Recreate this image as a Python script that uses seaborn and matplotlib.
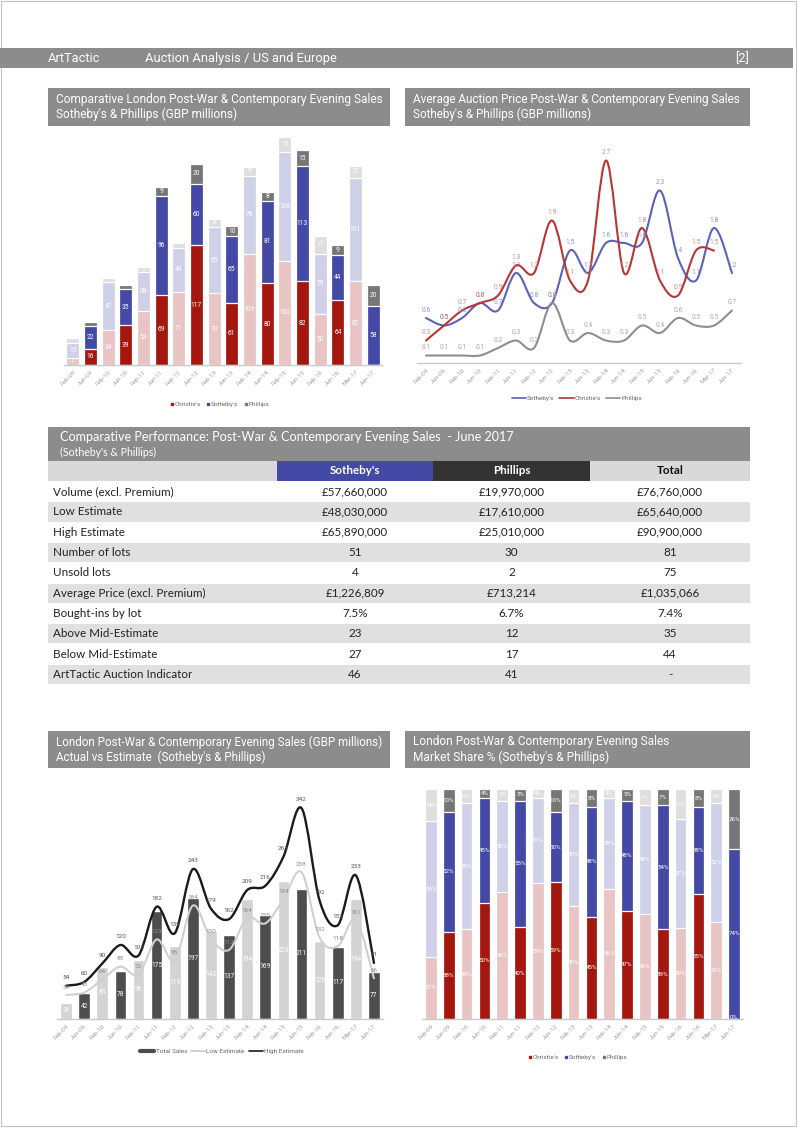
import numpy as np
import pandas as pd
import matplotlib
matplotlib.use("Agg")
import matplotlib.pyplot as plt
import seaborn as sns
from matplotlib.patches import Rectangle, PathPatch
from matplotlib.path import Path
from matplotlib.lines import Line2D

# ---------------- data ----------------
sales = ["Feb-09", "Jun-09", "Feb-10", "Jun-10", "Feb-11", "Jun-11", "Feb-12", "Jun-12",
         "Feb-13", "Jun-13", "Feb-14", "Jun-14", "Feb-15", "Jun-15", "Feb-16", "Jun-16",
         "Mar-17", "Jun-17"]

# chart 1: sales totals (GBP millions)
christies_gbp = [7, 16, 34, 39, 53, 69, 71, 117, 70, 61, 109, 80, 102, 82, 50, 64, 82, 0]
sothebys_gbp = [15, 22, 47, 35, 38, 96, 44, 60, 65, 65, 76, 81, 106, 113, 59, 44, 101, 58]
phillips_gbp = [4, 4, 4, 4, 5, 9, 4, 20, 8, 10, 9, 8, 15, 15, 17, 9, 12, 20]

# chart 2: average auction price (GBP millions)
sothebys_avg = [0.6, 0.5, 0.6, 0.8, 0.7, 1.2, 0.8, 0.8, 1.5, 1.2, 1.6, 1.6, 1.6, 2.3, 1.4, 1.1, 1.8, 1.2]
christies_avg = [0.3, 0.5, 0.7, 0.8, 0.9, 1.3, 1.2, 1.9, 1.1, 1.1, 2.7, 1.2, 1.8, 1.1, 0.9, 1.5, 1.5, np.nan]
phillips_avg = [0.1, 0.1, 0.1, 0.1, 0.2, 0.3, 0.2, 0.8, 0.3, 0.4, 0.3, 0.3, 0.5, 0.4, 0.6, 0.5, 0.5, 0.7]

# chart 3: actual vs estimate (GBP millions)
total_sales = [26, 42, 85, 78, 96, 175, 119, 197, 143, 137, 194, 169, 223, 211, 126, 117, 194, 77]
low_estimate = [39, 43, 64, 85, 72, 129, 95, 184, 130, 112, 164, 155, 194, 238, 132, 118, 161, 66]
high_estimate = [54, 60, 90, 120, 103, 182, 139, 243, 179, 162, 209, 216, 263, 342, 192, 152, 233, 91]

# chart 4: market share %
christies_pct = [27, 38, 39, 50, 56, 40, 59, 59, 49, 45, 56, 47, 46, 39, 39, 55, 42, 0]
sothebys_pct = [59, 52, 55, 45, 40, 55, 37, 30, 45, 48, 39, 48, 48, 54, 47, 38, 52, 74]
phillips_pct = [14, 10, 6, 4, 5, 5, 4, 10, 6, 8, 4, 5, 7, 7, 13, 8, 6, 26]

# table
table_rows = ["Volume (excl. Premium)", "Low Estimate", "High Estimate", "Number of lots",
              "Unsold lots", "Average Price (excl. Premium)", "Bought-ins by lot",
              "Above Mid-Estimate", "Below Mid-Estimate", "ArtTactic Auction Indicator"]
table_cols = ["Sotheby's", "Phillips", "Total"]
sothebys_col = ["£57,660,000", "£48,030,000", "£65,890,000", "51", "4", "£1,226,809", "7.5%", "23", "27", "46"]
phillips_col = ["£19,970,000", "£17,610,000", "£25,010,000", "30", "2", "£713,214", "6.7%", "12", "17", "41"]
total_col = ["£76,760,000", "£65,640,000", "£90,900,000", "81", "75", "£1,035,066", "7.4%", "35", "44", "-"]

# ---------------- style ----------------
sns.set_theme(style="white")
plt.rcParams["font.family"] = ["Roboto", "DejaVu Sans"]
FT = ["Liberation Sans Narrow", "Roboto", "DejaVu Sans"]
FB = ["Lato", "DejaVu Sans"]

C_DARK, C_LIGHT = "#A3170F", "#E8C4C4"
S_DARK, S_LIGHT = "#4449A6", "#D0D1E9"
P_DARK, P_LIGHT = "#767676", "#DEDEDE"
T_DARK, T_LIGHT = "#4D4D4D", "#D3D3D3"
BOX = "#8C8C8C"
TICK = "#A0A0A0"

W, H = 798, 1128
fig = plt.figure(figsize=(W / 100, H / 100), dpi=100)
fig.patch.set_facecolor("white")

ov = fig.add_axes([0, 0, 1, 1])
ov.set_xlim(0, W)
ov.set_ylim(H, 0)
ov.axis("off")


def rect(x0, y0, x1, y1, color, **kw):
    ov.add_patch(Rectangle((x0, y0), x1 - x0, y1 - y0, facecolor=color, edgecolor="none", **kw))


def px_axes(x0, y0, x1, y1):
    a = fig.add_axes([x0 / W, 1 - y1 / H, (x1 - x0) / W, (y1 - y0) / H])
    a.patch.set_alpha(0)
    return a


# page border + header
ov.add_patch(Rectangle((0.5, 0.5), 795, 1125, facecolor="none", edgecolor="#C4C4C4", lw=0.8))
rect(0, 48, 793, 68, BOX)
ov.text(48, 58.5, "ArtTactic", color="white", fontsize=9.3, va="center", family=FT)
ov.text(145, 58.5, "Auction Analysis / US and Europe", color="white", fontsize=9.3, va="center", family=FT)
ov.text(749, 58.5, "[2]", color="white", fontsize=9.3, va="center", ha="right", family=FT)


def title_box(x0, y0, x1, y1, l1, l2, fs=8.6):
    rect(x0, y0, x1, y1, BOX)
    ov.text(x0 + 8, y0 + 11, l1, color="white", fontsize=fs, va="center", family=FT)
    ov.text(x0 + 8, y0 + 26, l2, color="white", fontsize=fs, va="center", family=FT)


title_box(48, 88, 390, 126, "Comparative London Post-War & Contemporary Evening Sales",
          "Sotheby's & Phillips (GBP millions)")
title_box(405, 88, 750, 126, "Average Auction Price Post-War & Contemporary Evening Sales",
          "Sotheby's & Phillips (GBP millions)", fs=8.5)
title_box(48, 731, 390, 768, "London Post-War & Contemporary Evening Sales (GBP millions)",
          "Actual vs Estimate  (Sotheby's & Phillips)", fs=8.4)
title_box(405, 731, 750, 768, "London Post-War & Contemporary Evening Sales",
          "Market Share % (Sotheby's & Phillips)")

# ---------------- table ----------------
rect(48, 427, 750, 461, BOX)
ov.text(60, 437, "Comparative Performance: Post-War & Contemporary Evening Sales  - June 2017",
        color="white", fontsize=9.1, va="center", family=FB)
ov.text(60, 452, "(Sotheby's & Phillips)", color="white", fontsize=7.6, va="center", family=FB)
col_x = [(277, 433), (433, 590), (590, 750)]
col_bg = [S_DARK, "#333333", "#D9D9D9"]
col_fg = ["white", "white", "#111111"]
rect(48, 461, 277, 481, "#D9D9D9")
for (a, b), bg, fg, name in zip(col_x, col_bg, col_fg, table_cols):
    rect(a, 461, b, 481, bg)
    ov.text((a + b) / 2, 471, name, color=fg, fontsize=8.4, fontweight="bold", ha="center", va="center", family=FB)
row_h = 20.3
for i, lab in enumerate(table_rows):
    y0 = 481.5 + i * row_h
    if i % 2 == 1:
        rect(48, y0 + 0.6, 750, y0 + row_h - 0.6, "#E0E0E0")
    yc = y0 + row_h / 2
    ov.text(53, yc, lab, color="#222222", fontsize=8.4, va="center", family=FB)
    for (a, b), vals in zip(col_x, [sothebys_col, phillips_col, total_col]):
        ov.text((a + b) / 2, yc, vals[i], color="#222222", fontsize=8.4, ha="center", va="center", family=FB)


# ---------------- helpers ----------------
def style_axis(ax, ymax):
    ax.set_ylim(0, ymax)
    ax.set_xlim(-0.5, len(sales) - 0.5)
    ax.set_yticks([])
    ax.set_ylabel("")
    ax.set_xlabel("")
    for s in ["top", "right", "left"]:
        ax.spines[s].set_visible(False)
    ax.spines["bottom"].set_color("#C8C8C8")
    ax.spines["bottom"].set_linewidth(1.0)
    ax.set_xticks(range(len(sales)))
    ax.set_xticklabels(sales, rotation=45, ha="right", rotation_mode="anchor",
                       fontsize=4.6, color=TICK)
    ax.tick_params(axis="x", length=0, pad=3)


def alt(light, dark):
    return [light if i % 2 == 0 else dark for i in range(len(sales))]


def stacked(ax, layers, pals, width, normalize=False):
    arr = np.array(layers, dtype=float)
    if normalize:
        arr = arr / arr.sum(axis=0) * 100.0
    cum = np.cumsum(arr, axis=0)
    for k in range(len(layers) - 1, -1, -1):
        df = pd.DataFrame({"sale": sales, "val": cum[k]})
        sns.barplot(data=df, x="sale", y="val", hue="sale", order=sales, hue_order=sales,
                    palette=pals[k], legend=False, width=width, saturation=1,
                    edgecolor="white", linewidth=0.9, ax=ax)
    return arr, cum


def smooth(ax, y, color, lw, z=3):
    x = np.arange(len(y), dtype=float)
    y = np.asarray(y, dtype=float)
    m = ~np.isnan(y)
    pts = np.column_stack([x[m], y[m]])
    n = len(pts)
    verts = [pts[0]]
    codes = [Path.MOVETO]
    for i in range(n - 1):
        p0 = pts[i - 1] if i > 0 else pts[i]
        p1, p2 = pts[i], pts[i + 1]
        p3 = pts[i + 2] if i + 2 < n else pts[i + 1]
        verts += [p1 + (p2 - p0) / 6, p2 - (p3 - p1) / 6, p2]
        codes += [Path.CURVE4] * 3
    ax.add_patch(PathPatch(Path(verts, codes), facecolor="none", edgecolor=color, lw=lw,
                           capstyle="round", joinstyle="round", zorder=z))


def legend(handles, labels, cx, cy, **kw):
    fig.legend(handles, labels, loc="center", bbox_to_anchor=(cx / W, 1 - cy / H), ncol=len(labels),
               frameon=False, fontsize=4.6, labelcolor="#666666", borderaxespad=0, **kw)


# ---------------- chart 1 ----------------
ax1 = px_axes(64, 130, 382, 365)
layers1 = [christies_gbp, sothebys_gbp, phillips_gbp]
arr1, cum1 = stacked(ax1, layers1, [alt(C_LIGHT, C_DARK), alt(S_LIGHT, S_DARK), alt(P_LIGHT, P_DARK)], 0.72)
style_axis(ax1, 230)
for k in range(3):
    for i in range(len(sales)):
        v = layers1[k][i]
        if v >= 5:
            bot = cum1[k][i] - arr1[k][i]
            ax1.text(i, bot + arr1[k][i] / 2, f"{v}", color="white", fontsize=4.8, ha="center",
                     va="center", zorder=5)
mk = dict(marker="s", linestyle="none", markersize=2)
legend([Line2D([], [], color=C_DARK, **mk), Line2D([], [], color=S_DARK, **mk),
        Line2D([], [], color=P_DARK, **mk)],
       ["Christie's", "Sotheby's", "Phillips"], 220, 404, handlelength=0.4, handletextpad=0.2,
       columnspacing=1.0)

# ---------------- chart 2 ----------------
ax2 = px_axes(417, 138, 741, 363)
style_axis(ax2, 3.0)
series2 = [(sothebys_avg, "#5C61BA", "#8F93CF"), (christies_avg, "#B83535", "#D08A8A"),
           (phillips_avg, "#8E8E8E", "#A8A8A8")]
for vals, lc, tc in series2:
    smooth(ax2, vals, lc, 1.5)
for vals, lc, tc in series2:
    for i, v in enumerate(vals):
        if not np.isnan(v):
            ax2.annotate(f"{v:.1f}", (i, v), xytext=(0, 5.5), textcoords="offset points",
                         ha="center", va="center", fontsize=4.8, color=tc, zorder=6)
legend([Line2D([], [], color="#5C61BA", lw=1.2), Line2D([], [], color="#B83535", lw=1.2),
        Line2D([], [], color="#8E8E8E", lw=1.2)],
       ["Sotheby's", "Christie's", "Phillips"], 577, 398, handlelength=2.2, handletextpad=0.2,
       columnspacing=0.8)

# ---------------- chart 3 ----------------
ax3 = px_axes(57, 797, 383, 1019)
df3 = pd.DataFrame({"sale": sales, "total": total_sales})
sns.barplot(data=df3, x="sale", y="total", hue="sale", order=sales, hue_order=sales,
            palette=alt(T_LIGHT, T_DARK), legend=False, width=0.65, saturation=1, ax=ax3)
style_axis(ax3, 360)
smooth(ax3, low_estimate, "#D0D0D0", 1.5, z=4)
smooth(ax3, high_estimate, "#1A1A1A", 1.7, z=4)
for i, v in enumerate(total_sales):
    ax3.text(i, v / 2, f"{v}", color="white", fontsize=4.8, ha="center", va="center", zorder=6)
for i, v in enumerate(low_estimate):
    ax3.annotate(f"{v}", (i, v), xytext=(0, 5.5), textcoords="offset points", ha="center",
                 va="center", fontsize=4.6, color="#8C8C8C", zorder=6)
for i, v in enumerate(high_estimate):
    ax3.annotate(f"{v}", (i, v), xytext=(0, 6), textcoords="offset points", ha="center",
                 va="center", fontsize=4.6, color="#555555", zorder=6)
legend([Line2D([], [], color=T_DARK, lw=3), Line2D([], [], color="#C8C8C8", lw=1.2),
        Line2D([], [], color="#1A1A1A", lw=1.2)],
       ["Total Sales", "Low Estimate", "High Estimate"], 222, 1051, handlelength=2.2,
       handletextpad=0.2, columnspacing=0.6)

# ---------------- chart 4 ----------------
ax4 = px_axes(422, 788, 743, 1019)
layers4 = [christies_pct, sothebys_pct, phillips_pct]
arr4, cum4 = stacked(ax4, layers4, [alt(C_LIGHT, C_DARK), alt(S_LIGHT, S_DARK), alt(P_LIGHT, P_DARK)],
                     0.66, normalize=True)
style_axis(ax4, 100.5)
for k in range(3):
    for i in range(len(sales)):
        v = layers4[k][i]
        h = arr4[k][i]
        bot = cum4[k][i] - h
        yy = bot + h / 2 if v > 0 else 0.8
        ax4.text(i, yy, f"{v}%", color="white", fontsize=4.4, ha="center", va="center", zorder=5)
legend([Line2D([], [], color=C_DARK, **mk), Line2D([], [], color=S_DARK, **mk),
        Line2D([], [], color=P_DARK, **mk)],
       ["Christie's", "Sotheby's", "Phillips"], 578, 1057, handlelength=0.4, handletextpad=0.2,
       columnspacing=1.0)

fig.savefig("out.png", dpi=100, facecolor="white")
